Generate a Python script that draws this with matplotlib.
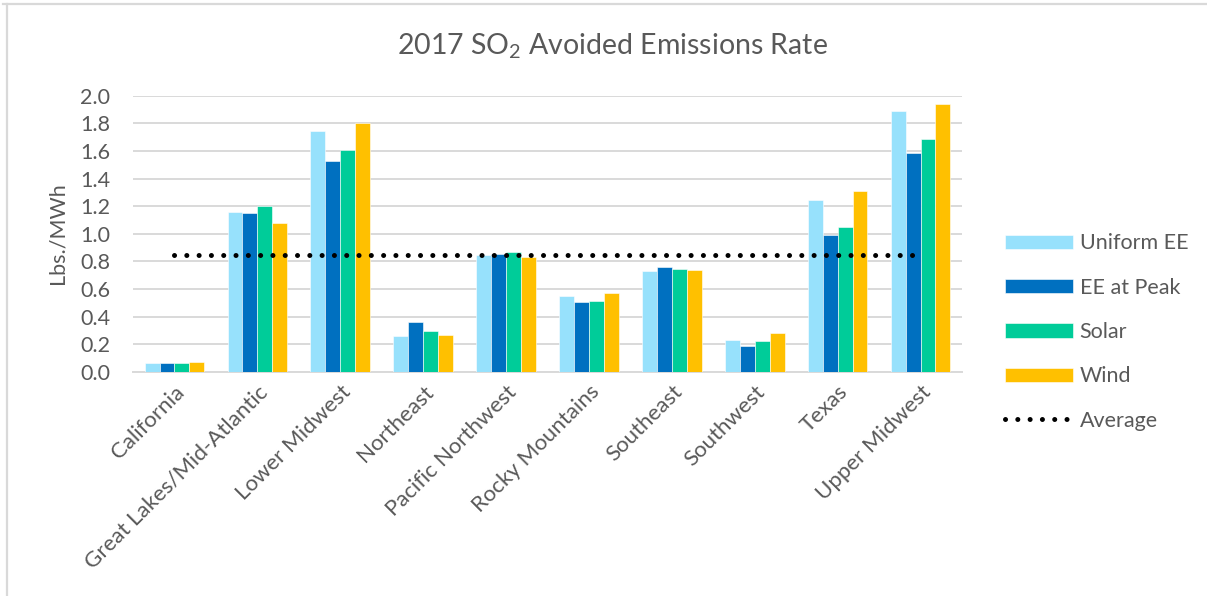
import numpy as np
import matplotlib
matplotlib.use("Agg")
import matplotlib.pyplot as plt
from matplotlib.lines import Line2D

plt.rcParams['font.family'] = ['Lato', 'DejaVu Sans']
plt.rcParams['mathtext.fontset'] = 'custom'
plt.rcParams['mathtext.rm'] = 'Lato'
plt.rcParams['mathtext.it'] = 'Lato:italic'

regions = ["California", "Great Lakes/Mid-Atlantic", "Lower Midwest", "Northeast",
           "Pacific Northwest", "Rocky Mountains", "Southeast", "Southwest",
           "Texas", "Upper Midwest"]

uniform_ee = [0.068, 1.16, 1.745, 0.26, 0.847, 0.55, 0.733, 0.232, 1.245, 1.887]
ee_at_peak = [0.062, 1.15, 1.53, 0.362, 0.856, 0.51, 0.758, 0.19, 0.99, 1.587]
solar = [0.066, 1.20, 1.61, 0.30, 0.866, 0.514, 0.748, 0.227, 1.047, 1.69]
wind = [0.07, 1.075, 1.80, 0.268, 0.83, 0.574, 0.735, 0.282, 1.31, 1.94]
average = [0.85] * len(regions)

series = [
    ("Uniform EE", uniform_ee, "#97E1FC"),
    ("EE at Peak", ee_at_peak, "#0070C0"),
    ("Solar", solar, "#00CC99"),
    ("Wind", wind, "#FFC000"),
]

yticks = [0.0, 0.2, 0.4, 0.6, 0.8, 1.0, 1.2, 1.4, 1.6, 1.8, 2.0]

text_color = "#595959"
grid_color = "#D9D9D9"
W, H = 1207, 596

fig = plt.figure(figsize=(W / 100, H / 100), dpi=100)
ax = fig.add_axes([133 / W, 1 - 372 / H, (962 - 133) / W, (372 - 95.7) / H])

x = np.arange(len(regions))
bw = 0.18
handles = []
for i, (name, vals, col) in enumerate(series):
    b = ax.bar(x + (i - 1.5) * bw, vals, width=bw, color=col, label=name,
               edgecolor="white", linewidth=0.4, zorder=3)
    handles.append(b)

avg_line, = ax.plot(x, average, color="black", linewidth=3.6, dashes=(0.01, 2.45),
                    dash_capstyle="round", label="Average", zorder=4)
handles.append(avg_line)

ax.set_xlim(-0.5, len(regions) - 0.5)
ax.set_ylim(0, 2.0)
ax.set_yticks(yticks)
ax.set_yticklabels([f"{v:.1f}" for v in yticks])
ax.yaxis.grid(True, color=grid_color, linewidth=1.4, zorder=0)
ax.set_axisbelow(True)
for s in ["top", "right", "left"]:
    ax.spines[s].set_visible(False)
ax.spines["bottom"].set_color(grid_color)
ax.spines["bottom"].set_linewidth(1.4)
ax.tick_params(axis="both", length=0, labelcolor=text_color)
ax.tick_params(axis="y", pad=16.5, labelsize=15.5)
ax.set_xticks(x)
ax.set_xticklabels(regions, rotation=45, ha="right", rotation_mode="anchor")
ax.tick_params(axis="x", pad=7, labelsize=16)

fig.text(57 / W, 1 - 233 / H, "Lbs./MWh", rotation=90, ha="center", va="center",
         fontsize=15.5, color=text_color)

fig.text(612 / W, 1 - 46 / H, "2017 SO$_2$ Avoided Emissions Rate", ha="center",
         va="center", fontsize=20.5, color=text_color)

leg = ax.legend(handles=handles, loc="center left", bbox_to_anchor=(1.028, 0.145),
                frameon=False, fontsize=15.5, handlelength=3.16, handleheight=0.65,
                labelspacing=1.13, handletextpad=0.33)
for t in leg.get_texts():
    t.set_color(text_color)

# chart frame edges
fig.add_artist(Line2D([3 / W, 1.0], [1 - 4 / H, 1 - 4 / H], color=grid_color,
                      linewidth=1.6, transform=fig.transFigure))
fig.add_artist(Line2D([7 / W, 7 / W], [0.0, 1 - 4 / H], color=grid_color,
                      linewidth=1.6, transform=fig.transFigure))

fig.savefig("out.png", dpi=100)
